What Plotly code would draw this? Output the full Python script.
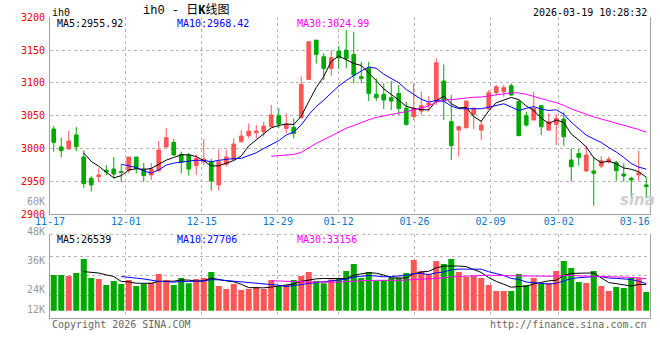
import plotly.graph_objects as go
import pandas as pd

# ---------------- data ----------------
dates = [
    "2025-11-17", "2025-11-18", "2025-11-19", "2025-11-20", "2025-11-21",
    "2025-11-24", "2025-11-25", "2025-11-26", "2025-11-27", "2025-11-28",
    "2025-12-01", "2025-12-02", "2025-12-03", "2025-12-04", "2025-12-05",
    "2025-12-08", "2025-12-09", "2025-12-10", "2025-12-11", "2025-12-12",
    "2025-12-15", "2025-12-16", "2025-12-17", "2025-12-18", "2025-12-19",
    "2025-12-22", "2025-12-23", "2025-12-24", "2025-12-25", "2025-12-26",
    "2025-12-29", "2025-12-30", "2025-12-31", "2026-01-05", "2026-01-06",
    "2026-01-07", "2026-01-08", "2026-01-09", "2026-01-12", "2026-01-13",
    "2026-01-14", "2026-01-15", "2026-01-16", "2026-01-19", "2026-01-20",
    "2026-01-21", "2026-01-22", "2026-01-23", "2026-01-26", "2026-01-27",
    "2026-01-28", "2026-01-29", "2026-01-30", "2026-02-02", "2026-02-03",
    "2026-02-04", "2026-02-05", "2026-02-06", "2026-02-09", "2026-02-10",
    "2026-02-11", "2026-02-12", "2026-02-13", "2026-02-24", "2026-02-25",
    "2026-02-26", "2026-02-27", "2026-03-02", "2026-03-03", "2026-03-04",
    "2026-03-05", "2026-03-06", "2026-03-09", "2026-03-10", "2026-03-11",
    "2026-03-12", "2026-03-13", "2026-03-16", "2026-03-17", "2026-03-18",
]

opens = [
    3029.6, 3002.2, 2999.1, 3020.5, 2986.9, 2954.4, 2957.0, 2966.6, 2968.6, 2964.6,
    2966.6, 2986.9, 2968.6, 2959.5, 2966.1, 3002.2, 3009.3, 2991.0, 2990.0, 2973.7,
    2979.8, 2979.8, 2944.3, 2975.8, 2982.9, 3010.3, 3019.4, 3024.0, 3025.5, 3033.2,
    3049.9, 3030.6, 3032.1, 3046.9, 3105.3, 3165.2, 3139.8, 3122.1, 3148.5, 3150.0,
    3143.4, 3109.4, 3122.1, 3082.4, 3082.4, 3077.4, 3084.0, 3061.1, 3048.4, 3057.0,
    3066.2, 3072.3, 3102.8, 3040.8, 3028.0, 3031.6, 3052.0, 3028.0, 3060.1, 3085.0,
    3086.5, 3095.6, 3071.3, 3050.0, 3043.3, 3065.2, 3028.0, 3036.7, 3044.8, 2982.4,
    2992.0, 2965.6, 2965.6, 2973.2, 2979.4, 2978.9, 2961.0, 2954.5, 2959.5, 2944.3,
]
highs = [
    3034.2, 3016.4, 3026.6, 3032.7, 2997.1, 2958.0, 2969.7, 2974.7, 2986.9, 2974.7,
    2986.9, 2986.9, 2977.8, 2977.8, 3011.3, 3031.6, 3014.4, 2995.1, 2993.0, 2991.0,
    3014.4, 2983.9, 2998.1, 2998.1, 3015.4, 3027.6, 3038.2, 3035.7, 3040.8, 3066.2,
    3061.1, 3053.5, 3045.9, 3109.4, 3162.7, 3165.2, 3144.9, 3150.0, 3156.6, 3180.5,
    3177.9, 3132.2, 3132.2, 3106.8, 3099.2, 3102.8, 3096.7, 3071.3, 3099.2, 3086.6,
    3079.9, 3137.3, 3128.2, 3081.4, 3033.2, 3072.3, 3063.0, 3043.3, 3089.1, 3096.7,
    3096.7, 3099.2, 3073.8, 3056.0, 3086.5, 3065.2, 3053.5, 3052.0, 3055.0, 3000.0,
    2999.1, 3004.2, 2987.4, 2988.5, 2987.4, 2981.3, 2977.0, 2956.9, 2996.6, 2956.0,
]
lows = [
    2995.0, 2986.4, 2998.5, 2996.1, 2939.7, 2934.1, 2948.3, 2959.5, 2954.4, 2948.3,
    2962.0, 2962.0, 2949.3, 2951.8, 2964.6, 3001.2, 2989.0, 2962.0, 2958.5, 2959.5,
    2974.7, 2935.6, 2935.6, 2972.2, 2982.9, 3009.3, 3015.4, 3015.4, 3017.9, 3032.2,
    3030.6, 3023.0, 3015.4, 3045.9, 3105.3, 3129.7, 3104.3, 3110.9, 3121.0, 3122.1,
    3099.2, 3099.2, 3072.3, 3072.3, 3060.1, 3058.6, 3050.9, 3034.7, 3043.3, 3050.9,
    3056.0, 3066.2, 3043.3, 2982.4, 2987.4, 3030.6, 3029.6, 3012.8, 3060.1, 3081.4,
    3078.9, 3080.4, 3019.4, 3033.2, 3043.3, 3020.5, 3026.5, 3005.2, 3004.2, 2949.3,
    2973.7, 2964.6, 2912.5, 2969.7, 2977.0, 2950.6, 2949.3, 2924.0, 2950.8, 2924.0,
]
closes = [
    3009.3, 2996.6, 3011.3, 3002.7, 2946.3, 2944.3, 2959.5, 2964.1, 2961.0, 2963.6,
    2986.9, 2969.7, 2958.5, 2968.6, 2997.6, 3016.4, 2990.0, 2978.8, 2968.6, 2984.9,
    2983.9, 2950.4, 2979.8, 2986.9, 3006.7, 3018.9, 3026.6, 3026.6, 3034.2, 3050.9,
    3037.2, 3037.2, 3023.0, 3097.7, 3162.7, 3143.4, 3122.1, 3138.3, 3138.3, 3137.3,
    3111.9, 3106.8, 3084.0, 3077.4, 3073.8, 3072.3, 3061.1, 3036.7, 3061.1, 3065.2,
    3069.2, 3130.7, 3072.3, 3004.2, 3033.2, 3072.3, 3061.1, 3035.7, 3085.0, 3094.1,
    3092.6, 3081.4, 3019.4, 3035.7, 3061.1, 3033.2, 3040.8, 3045.9, 3017.9, 2972.2,
    2986.4, 2990.0, 2962.1, 2981.3, 2983.5, 2966.1, 2958.0, 2951.9, 2963.0, 2941.7,
]
volumes = [
    36700, 36700, 35700, 38700, 53100, 33600, 32500, 26400, 30500, 27400,
    31600, 25400, 27400, 28800, 37700, 31600, 26400, 33600, 28100, 32500,
    33600, 39800, 25400, 22200, 27400, 21300, 22200, 24300, 22200, 31600,
    25400, 26400, 31600, 35700, 39800, 30500, 28100, 32200, 33600, 40800,
    48000, 33600, 39800, 30500, 31600, 33600, 33600, 38700, 52100, 40800,
    37700, 51100, 48000, 53100, 39800, 34600, 35700, 33600, 26400, 20200,
    20200, 20200, 37700, 26400, 33600, 27400, 28400, 40800, 51100, 43900,
    29500, 28400, 40800, 25400, 20200, 24300, 23300, 33600, 33600, 19200,
]

price_ticks = [2900, 2950, 3000, 3050, 3100, 3150, 3200]
date_tick_labels = ["11-17", "12-01", "12-15", "12-29", "01-12", "01-26", "02-09", "03-02", "03-16"]
vol_tick_labels = ["60K", "48K", "36K", "24K", "12K"]
ma_periods = [5, 10, 30]
price_ma_labels = ["MA5:2955.92", "MA10:2968.42", "MA30:3024.99"]
vol_ma_labels = ["MA5:26539", "MA10:27706", "MA30:33156"]
symbol = "ih0"
title_text = "ih0 - 日<b>K</b>线图"
timestamp = "2026-03-19 10:28:32"
copyright_text = "Copyright 2026 SINA.COM"
url_text = "http://finance.sina.com.cn"

# ---------------- styling / layout helpers ----------------
W, H = 660, 360
def px(x):
    return x / W
def py(y):
    return 1 - y / H

RED = "#ff5555"
GREEN = "#00a800"
MA_COLORS = ["#000000", "#0000ff", "#ff00ff"]
GRID = "#b4b4b4"
AXIS = "#a0a0a0"
PRICE_RED = "#ee0000"
DATE_BLUE = "#0a78c8"
GRAY_TXT = "#999999"
MONO = "DejaVu Sans Mono"

N = len(dates)
df = pd.DataFrame({"open": opens, "high": highs, "low": lows, "close": closes, "volume": volumes})
for n in ma_periods:
    df[f"ma{n}"] = df["close"].rolling(n).mean()
    df[f"vma{n}"] = df["volume"].rolling(n).mean()

label_idx = [i for i, d in enumerate(dates) if d[5:] in date_tick_labels]
grid_idx = label_idx[1:-1]

fig = go.Figure()
fig.add_trace(go.Candlestick(
    x=dates, open=opens, high=highs, low=lows, close=closes,
    xaxis="x", yaxis="y",
    increasing=dict(line=dict(color=RED, width=1), fillcolor=RED),
    decreasing=dict(line=dict(color=GREEN, width=1), fillcolor=GREEN),
    whiskerwidth=0, showlegend=False, hoverinfo="skip",
))
for n, c in zip(ma_periods, MA_COLORS):
    fig.add_trace(go.Scatter(x=dates, y=df[f"ma{n}"], mode="lines",
                             line=dict(color=c, width=1), xaxis="x", yaxis="y",
                             showlegend=False, hoverinfo="skip"))

bar_colors = [RED if c > o else GREEN for o, c in zip(opens, closes)]
fig.add_trace(go.Bar(x=dates, y=volumes, marker=dict(color=bar_colors, line=dict(width=0)),
                     xaxis="x2", yaxis="y2", showlegend=False, hoverinfo="skip"))
for n, c in zip(ma_periods, MA_COLORS):
    fig.add_trace(go.Scatter(x=dates, y=df[f"vma{n}"], mode="lines",
                             line=dict(color=c, width=1), xaxis="x2", yaxis="y2",
                             showlegend=False, hoverinfo="skip"))

# empty traces so that the overlay (label / grid) axes get their subplots
for ax, ay in (("x3", "y"), ("x4", "y"), ("x5", "y2")):
    fig.add_trace(go.Scatter(x=[], y=[], xaxis=ax, yaxis=ay, showlegend=False, hoverinfo="skip"))

xdom = [px(50), px(650)]
vol_range = [-7260, 78640]
vol_grid = [16000, 36000, 56000]

common = dict(automargin=False, zeroline=False)
fig.update_layout(
    template="none",
    width=W, height=H, margin=dict(l=0, r=0, t=0, b=0, pad=0, autoexpand=False),
    paper_bgcolor="white", plot_bgcolor="white", showlegend=False,
    bargap=0.2, font=dict(family=MONO, size=10, color="#000000"),
    xaxis=dict(domain=xdom, type="category", range=[-0.5, N - 0.5], anchor="y",
               showline=True, linecolor=AXIS, linewidth=1, showgrid=False,
               showticklabels=False, ticks="", rangeslider=dict(visible=False), **common),
    yaxis=dict(domain=[py(214), py(17.3)], range=[2900, 3200], anchor="x",
               tickvals=price_ticks, ticktext=[str(v) for v in price_ticks],
               tickfont=dict(color=PRICE_RED, size=10, family=MONO),
               showline=True, mirror=True, linecolor=AXIS, linewidth=1,
               showgrid=True, gridcolor=GRID, griddash="dot", gridwidth=1,
               ticks="outside", ticklen=2, tickcolor="rgba(0,0,0,0)", **common),
    xaxis2=dict(domain=xdom, type="category", range=[-0.5, N - 0.5], anchor="y2",
                showline=True, linecolor=AXIS, linewidth=1, showgrid=False,
                showticklabels=False, ticks="", **common),
    yaxis2=dict(domain=[py(317.7), py(234.3)], range=vol_range, anchor="x2",
                tickvals=vol_grid, showticklabels=False,
                showline=True, mirror=True, linecolor=AXIS, linewidth=1,
                showgrid=True, gridcolor=GRID, griddash="dot", gridwidth=1,
                ticks="", **common),
    xaxis3=dict(overlaying="x", anchor="y", range=[0, N - 1],
                tickvals=label_idx, ticktext=date_tick_labels,
                tickfont=dict(color=DATE_BLUE, size=10, family=MONO),
                showgrid=False, showline=False, ticks="", **common),
    xaxis4=dict(overlaying="x", anchor="y", range=[0, N - 1], tickvals=grid_idx,
                showticklabels=False, showgrid=True, gridcolor=GRID, griddash="dot",
                gridwidth=1, showline=False, ticks="", **common),
    xaxis5=dict(overlaying="x2", anchor="y2", range=[0, N - 1], tickvals=grid_idx,
                showticklabels=False, showgrid=True, gridcolor=GRID, griddash="dot",
                gridwidth=1, showline=False, ticks="", **common),
)

# dotted top border of the volume panel
fig.add_shape(type="line", xref="paper", yref="paper", x0=px(50), x1=px(650),
              y0=py(234.3), y1=py(234.3), line=dict(color=GRID, width=1, dash="dot"))

ann = []
def text(t, x, y, color="#000000", anchor="left", size=10, family=MONO):
    ann.append(dict(text=t, x=px(x), y=py(y), xref="paper", yref="paper",
                    xanchor=anchor, yanchor="middle", showarrow=False,
                    font=dict(color=color, size=size, family=family)))

text(symbol, 50, 12.5)
text(title_text, 185.5, 10.5, anchor="center", size=12,
     family="Liberation Mono, Noto Sans CJK SC")
text(timestamp, 649, 12.5, anchor="right")
for lbl, c, x in zip(price_ma_labels, MA_COLORS, [55, 175, 295]):
    text(lbl, x, 23.5, color=c)
for lbl, c, x in zip(vol_ma_labels, MA_COLORS, [55, 175, 295]):
    text(lbl, x, 239.5, color=c)
for lbl, y in zip(vol_tick_labels, [201, 231, 260.7, 289.3, 309]):
    text(lbl, 46.7, y, color=GRAY_TXT, anchor="right")
text(copyright_text, 50, 324.5, color="#666666")
text(url_text, 649, 324.5, color="#666666", anchor="right")
text("<b><i>sina</i></b>", 637, 200, color="#cfcfcf", anchor="center", size=15,
     family="DejaVu Sans")
fig.update_layout(annotations=ann)

fig.write_html("out.html", config={"displayModeBar": False, "staticPlot": True},
               post_script="document.body.style.margin='0px';")
